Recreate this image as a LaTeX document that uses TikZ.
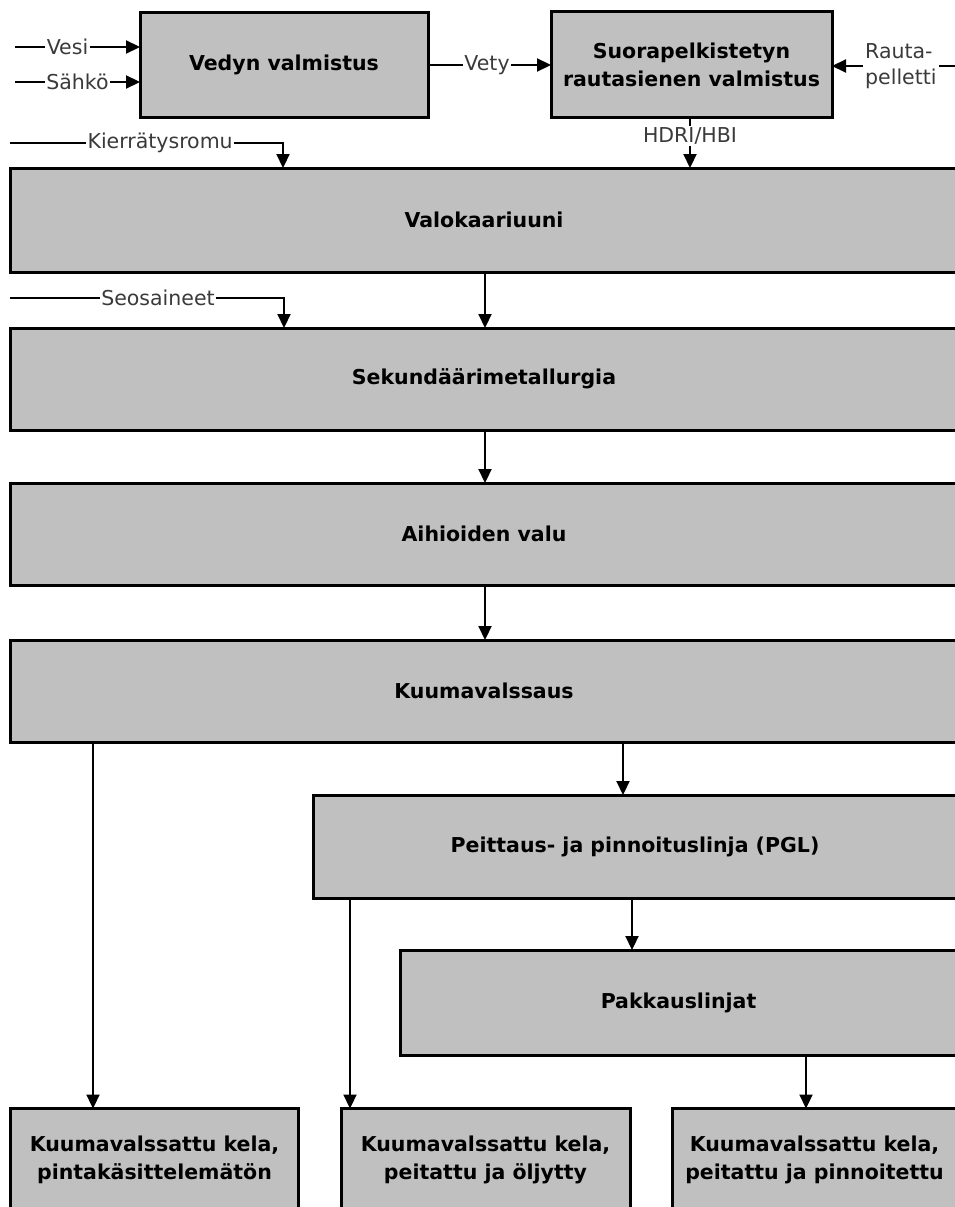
\documentclass[tikz,border=0pt]{standalone}
\usepackage{fontspec}
\setmainfont{DejaVu Sans}
\usetikzlibrary{arrows.meta}
\definecolor{boxgray}{HTML}{C0C0C0}
\definecolor{lblgray}{HTML}{3A3A3A}
\begin{document}
\begin{tikzpicture}[x=1pt,y=-1pt,
  box/.style={draw=black, line width=3pt, fill=boxgray, align=center, inner sep=0pt, outer sep=0pt,
    font=\bfseries\fontsize{20.5}{28}\selectfont},
  arr/.style={line width=2.2pt, -{Triangle[length=14pt,width=13pt]}},
  lbl/.style={fill=white, inner sep=1.5pt, text=lblgray, font=\fontsize{20.5}{26}\selectfont}
]
\useasboundingbox (0,0) rectangle (955,1207);
\clip (0,0) rectangle (955,1207);
\fill[white] (0,0) rectangle (955,1207);

% boxes
\node[box, minimum width=288pt, minimum height=104pt] (vedyn) at (284,65) {Vedyn valmistus};
\node[box, minimum width=281pt, minimum height=105pt] (suora) at (691.5,64.5) {Suorapelkistetyn\\rautasienen valmistus};
\node[box, minimum width=948pt, minimum height=104pt] (valo) at (484,220) {Valokaariuuni};
\node[box, minimum width=948pt, minimum height=102pt] (seku) at (484,379) {Sekundäärimetallurgia};
\node[box, minimum width=948pt, minimum height=102pt] (aihio) at (484,534) {Aihioiden valu};
\node[box, minimum width=948pt, minimum height=102pt] (kuuma) at (484,691) {Kuumavalssaus};
\node[box, minimum width=644pt, minimum height=103pt] (pgl) at (635,846.5) {Peittaus- ja pinnoituslinja (PGL)};
\node[box, minimum width=557pt, minimum height=105pt] (pakk) at (678.5,1002.5) {Pakkauslinjat};
\node[box, minimum width=288pt, minimum height=103pt] (b1) at (154.5,1160) {Kuumavalssattu kela,\\pintakäsittelemätön};
\node[box, minimum width=289pt, minimum height=103pt] (b2) at (485.5,1160) {Kuumavalssattu kela,\\peitattu ja öljytty};
\node[box, minimum width=285pt, minimum height=103pt] (b3) at (814.5,1160) {Kuumavalssattu kela,\\peitattu ja pinnoitettu};

% inputs
\coordinate (vS) at (15,47);
\coordinate (sS) at (15,82);
\coordinate (rS) at (962,66);
\coordinate (kS) at (10,143);
\coordinate (kC) at (283,143);
\coordinate (oS) at (10,298);
\coordinate (oC) at (284,298);

\draw[arr] (vS) -- node[lbl, pos=0.42] {Vesi} (vedyn.west|-vS);
\draw[arr] (sS) -- node[lbl, pos=0.5] {Sähkö} (vedyn.west|-sS);
\draw[arr] (vedyn.east) -- node[lbl, pos=0.48] {Vety} (suora.west|-vedyn.east);
\draw[arr] (rS) -- node[lbl, pos=0.47, align=left, inner sep=2pt] {Rauta-\\pelletti} (suora.east|-rS);
\draw[arr] (kS) -- node[lbl, pos=0.55] {Kierrätysromu} (kC) -- (kC|-valo.north);
\draw[arr] ([xshift=-1.5pt]suora.south) -- node[lbl, pos=0.38] {HDRI/HBI} ([xshift=-1.5pt]suora.south|-valo.north);
\draw[arr] (oS) -- node[lbl, pos=0.54] {Seosaineet} (oC) -- (oC|-seku.north);

% main flow
\draw[arr] (485,272) coordinate (a1) -- (a1|-seku.north);
\draw[arr] (485,430) coordinate (a2) -- (a2|-aihio.north);
\draw[arr] (485,585) coordinate (a3) -- (a3|-kuuma.north);
\draw[arr] (623,742) coordinate (a4) -- (a4|-pgl.north);
\draw[arr] (93,742) coordinate (a5) -- (a5|-b1.north);
\draw[arr] (632,898) coordinate (a6) -- (a6|-pakk.north);
\draw[arr] (350,898) coordinate (a7) -- (a7|-b2.north);
\draw[arr] (806,1055) coordinate (a8) -- (a8|-b3.north);
\end{tikzpicture}
\end{document}
